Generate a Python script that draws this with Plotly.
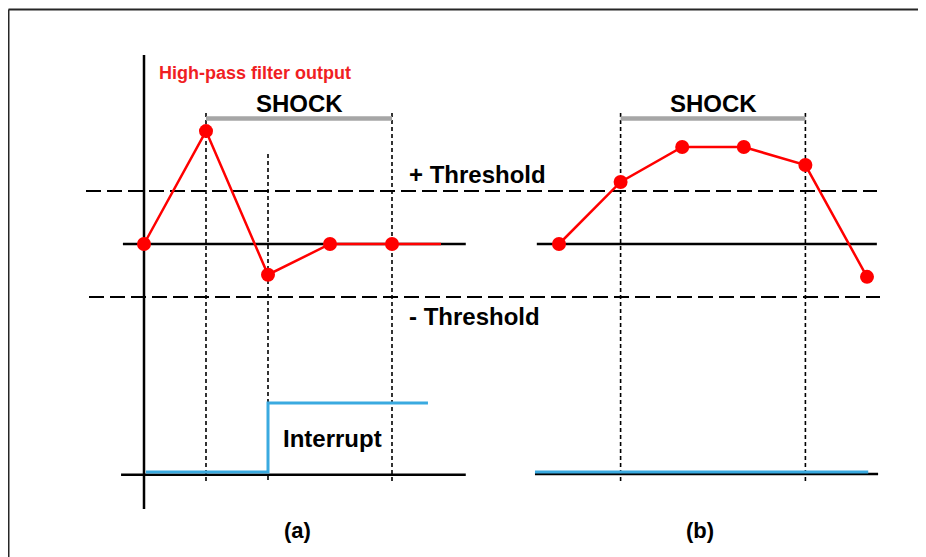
import plotly.graph_objects as go

W, H = 926, 557
OFF = 8  # page body margin offset
FW, FH = W - OFF, H - OFF  # figure size that fits the window

# ---- data (signal in units of threshold; interrupt 0/1) ----
t_a = [0, 1, 2, 3, 4]
hpf_a = [0, 2.13, -0.58, 0, 0]
int_a = [0, 0, 1, 1, 1]

t_b = [0, 1, 2, 3, 4, 5]
hpf_b = [0, 1.17, 1.83, 1.83, 1.49, -0.62]
int_b = [0, 0, 0, 0, 0, 0]

threshold = 1.0
shock_a = [1, 4]
shock_b = [1, 4]
int_switch_a = 2

RED = "#FF0000"
BLUE = "#3AAAE0"
GRAY = "#A6A6A6"
FONT = "Liberation Sans, Arial, sans-serif"

# pixel helpers for axis ranges (layout only)
ppu_a, x0_a = 62.0, 144.0 - OFF
ppu_b, x0_b = 61.6, 559.0 - OFF
ppy, y0 = 53.0, 244.0 - OFF
ppi, yi0 = 69.0, 472.0 - OFF

def px(p):
    return (p - OFF) / FW

def py(p):
    return 1 - (p - OFF) / FH

fig = go.Figure()

# high-pass filter output
fig.add_trace(go.Scatter(x=t_a + [4.79], y=hpf_a + [hpf_a[-1]], mode="lines",
                         line=dict(color=RED, width=2.5), xaxis="x", yaxis="y",
                         hoverinfo="skip"))
fig.add_trace(go.Scatter(x=t_a, y=hpf_a, mode="markers",
                         marker=dict(color=RED, size=14), xaxis="x", yaxis="y"))
fig.add_trace(go.Scatter(x=t_b, y=hpf_b, mode="lines+markers",
                         line=dict(color=RED, width=2.5),
                         marker=dict(color=RED, size=14), xaxis="x2", yaxis="y"))

# interrupt
fig.add_trace(go.Scatter(x=[0.03] + t_a[1:] + [4.58], y=int_a + [int_a[-1]], mode="lines",
                         line=dict(color=BLUE, width=3, shape="hv"), xaxis="x", yaxis="y2"))
fig.add_trace(go.Scatter(x=[-0.39] + t_b[1:] + [5.02], y=int_b + [int_b[-1]], mode="lines",
                         line=dict(color=BLUE, width=3, shape="hv"), xaxis="x2", yaxis="y2"))

shapes = []
BLK = dict(color="#000000", width=2.5)
# frame (top and left edges visible)
FR = dict(color="#262626", width=2)
shapes.append(dict(type="line", xref="paper", yref="paper", x0=px(8.5), x1=1.0,
                   y0=py(9.5), y1=py(9.5), line=FR))
shapes.append(dict(type="line", xref="paper", yref="paper", x0=px(8.5), x1=px(8.5),
                   y0=py(9.5), y1=0, line=FR))
# panel a axes
shapes.append(dict(type="line", xref="x", yref="y", x0=0, x1=0,
                   y0=(244 - 55) / ppy, y1=(244 - 509) / ppy, line=BLK, layer="below"))
shapes.append(dict(type="line", xref="x", yref="y", x0=-0.34, x1=5.19, y0=0, y1=0,
                   line=BLK, layer="below"))
shapes.append(dict(type="line", xref="x", yref="y2", x0=-0.37, x1=5.19,
                   y0=-0.04, y1=-0.04, line=BLK, layer="below"))
# panel b axes
shapes.append(dict(type="line", xref="x2", yref="y", x0=-0.36, x1=5.16, y0=0, y1=0,
                   line=BLK, layer="below"))
shapes.append(dict(type="line", xref="x2", yref="y2", x0=-0.39, x1=5.18,
                   y0=-0.03, y1=-0.03, line=BLK, layer="below"))
# thresholds
shapes.append(dict(type="line", xref="paper", yref="y", x0=px(86), x1=px(877),
                   y0=threshold, y1=threshold, layer="below",
                   line=dict(color="#000000", width=2, dash="15px,6px")))
shapes.append(dict(type="line", xref="paper", yref="y", x0=px(89), x1=px(880),
                   y0=-threshold, y1=-threshold, layer="below",
                   line=dict(color="#000000", width=2, dash="15px,6px")))
# dotted verticals
DOT = dict(color="#000000", width=1.6, dash="4px,3px")
for t in shock_a:
    shapes.append(dict(type="line", xref="x", yref="paper", x0=t, x1=t,
                       y0=py(113), y1=py(481), line=DOT, layer="below"))
shapes.append(dict(type="line", xref="x", yref="paper", x0=int_switch_a, x1=int_switch_a,
                   y0=py(154), y1=py(481), line=DOT, layer="below"))
for t in shock_b:
    shapes.append(dict(type="line", xref="x2", yref="paper", x0=t, x1=t,
                       y0=py(113), y1=py(481), line=DOT, layer="below"))
# shock bars
shapes.append(dict(type="line", xref="x", yref="paper", x0=shock_a[0], x1=shock_a[1],
                   y0=py(118.5), y1=py(118.5), line=dict(color=GRAY, width=4.5)))
shapes.append(dict(type="line", xref="x2", yref="paper", x0=shock_b[0], x1=shock_b[1],
                   y0=py(118.5), y1=py(118.5), line=dict(color=GRAY, width=4.5)))

def ann(text, x, y, size, color="#000000", xanchor="center"):
    return dict(text=text, x=px(x), y=py(y), xref="paper", yref="paper",
                xanchor=xanchor, yanchor="middle", showarrow=False,
                font=dict(family=FONT, size=size, color=color, weight="bold"))

annotations = [
    ann("High-pass filter output", 157, 73, 18, color="#F01E23", xanchor="left"),
    ann("SHOCK", 299, 103, 24),
    ann("SHOCK", 713, 103, 24),
    ann("+ Threshold", 407, 175, 24, xanchor="left"),
    ann("- Threshold", 407, 316, 24, xanchor="left"),
    ann("Interrupt", 281, 438, 24, xanchor="left"),
    ann("(a)", 297, 530, 22),
    ann("(b)", 700, 530, 22),
]

fig.update_layout(
    width=FW, height=FH, autosize=False,
    margin=dict(l=0, r=0, t=0, b=0),
    paper_bgcolor="white", plot_bgcolor="rgba(0,0,0,0)",
    showlegend=False,
    xaxis=dict(domain=[0, 1], range=[-x0_a / ppu_a, (FW - x0_a) / ppu_a], visible=False),
    xaxis2=dict(domain=[0, 1], range=[-x0_b / ppu_b, (FW - x0_b) / ppu_b], visible=False,
                overlaying="x"),
    yaxis=dict(domain=[0, 1], range=[-(FH - y0) / ppy, y0 / ppy], visible=False),
    yaxis2=dict(domain=[0, 1], range=[-(FH - yi0) / ppi, yi0 / ppi], visible=False,
                overlaying="y"),
    shapes=shapes,
    annotations=annotations,
)

fig.write_html("out.html", config=dict(displayModeBar=False))
